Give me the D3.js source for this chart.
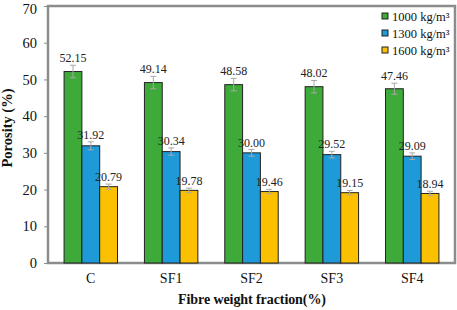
<!DOCTYPE html>
<html>
<head>
<meta charset="utf-8">
<script src="https://cdn.jsdelivr.net/npm/d3@7"></script>
<style>
  body { margin: 0; background: #fff; }
</style>
</head>
<body>
<div id="chart"></div>
<script>
// data
const categories = ['C', 'SF1', 'SF2', 'SF3', 'SF4'];
const seriesNames = ['1000 kg/m³', '1300 kg/m³', '1600 kg/m³'];
const values1000 = [52.15, 49.14, 48.58, 48.02, 47.46];
const values1300 = [31.92, 30.34, 30.00, 29.52, 29.09];
const values1600 = [20.79, 19.78, 19.46, 19.15, 18.94];
const errors1000 = [1.7, 1.7, 1.7, 1.7, 1.5];
const errors1300 = [1.1, 1.0, 0.9, 0.9, 0.9];
const errors1600 = [0.7, 0.6, 0.6, 0.6, 0.6];
const yTicks = [0, 10, 20, 30, 40, 50, 60, 70];
const colors = ['#3eaa3a', '#1e9ad8', '#fbc000'];

const series = [values1000, values1300, values1600];
const errs = [errors1000, errors1300, errors1600];

const FONT = '"Liberation Serif", "Times New Roman", serif';
const width = 457;
const height = 310;
const marginLeft = 48;
const marginRight = 2;
const marginTop = 6;
const marginBottom = 47;

const svg = d3.select('#chart').append('svg')
  .attr('width', width)
  .attr('height', height);

const scaleX = d3.scaleBand()
  .domain(categories)
  .range([marginLeft, width - marginRight])
  .paddingInner(0.335)
  .paddingOuter(0.2);

const scaleY = d3.scaleLinear()
  .domain([0, 70])
  .range([height - marginBottom, marginTop]);

const scaleSub = d3.scaleBand()
  .domain(d3.range(3))
  .range([0, scaleX.bandwidth()]);

// frame
svg.append('rect')
  .attr('x', marginLeft)
  .attr('y', marginTop)
  .attr('width', width - marginLeft - marginRight)
  .attr('height', height - marginTop - marginBottom)
  .attr('fill', 'none')
  .attr('stroke', '#8c8c8c')
  .attr('stroke-width', 2.5);

// y axis
const yAxis = svg.append('g')
  .attr('transform', `translate(${marginLeft - 1}, 0)`)
  .call(d3.axisLeft(scaleY).tickValues(yTicks).tickSize(3).tickPadding(7));
yAxis.select('.domain').remove();
yAxis.selectAll('.tick line').attr('stroke', '#8c8c8c');
yAxis.selectAll('text')
  .attr('font-size', 14.5)
  .attr('fill', '#111')
  .style('font-family', FONT);
// top label sits against the edge, nudge it down so it is not clipped
yAxis.selectAll('.tick text')
  .filter(d => d === 70)
  .attr('dy', '0.5em');

// x axis
const xAxis = svg.append('g')
  .attr('transform', `translate(0, ${height - marginBottom})`)
  .call(d3.axisBottom(scaleX).tickSize(0).tickPadding(10));
xAxis.select('.domain').remove();
xAxis.selectAll('text')
  .attr('font-size', 14)
  .attr('fill', '#111')
  .style('font-family', FONT);

// bars
series.forEach((vals, si) => {
  const g = svg.append('g');
  const bx = d => scaleX(categories[d.i]) + scaleSub(si);
  const data = vals.map((v, i) => ({ v, i, e: errs[si][i] }));

  g.selectAll('rect')
    .data(data)
    .enter()
    .append('rect')
    .attr('x', bx)
    .attr('y', d => scaleY(d.v))
    .attr('width', scaleSub.bandwidth())
    .attr('height', d => scaleY(0) - scaleY(d.v))
    .attr('fill', colors[si])
    .attr('stroke', '#222')
    .attr('stroke-width', 1);

  // error bars
  const cx = d => bx(d) + scaleSub.bandwidth() / 2;
  const eb = g.selectAll('g.err')
    .data(data)
    .enter()
    .append('g')
    .attr('stroke', '#a8a8a8')
    .attr('stroke-width', 1);
  eb.append('line')
    .attr('x1', cx).attr('x2', cx)
    .attr('y1', d => scaleY(d.v - d.e))
    .attr('y2', d => scaleY(d.v + d.e));
  eb.append('line')
    .attr('x1', d => cx(d) - 3).attr('x2', d => cx(d) + 3)
    .attr('y1', d => scaleY(d.v + d.e))
    .attr('y2', d => scaleY(d.v + d.e));
  eb.append('line')
    .attr('x1', d => cx(d) - 3).attr('x2', d => cx(d) + 3)
    .attr('y1', d => scaleY(d.v - d.e))
    .attr('y2', d => scaleY(d.v - d.e));

  // value labels
  g.selectAll('text')
    .data(data)
    .enter()
    .append('text')
    .attr('x', cx)
    .attr('y', d => scaleY(d.v + d.e) - 3)
    .attr('text-anchor', 'middle')
    .attr('font-size', 12)
    .attr('fill', '#222')
    .style('font-family', FONT)
    .text(d => d.v.toFixed(2));
});

// axis titles
svg.append('text')
  .attr('transform', `translate(12, 128) rotate(-90)`)
  .attr('text-anchor', 'middle')
  .attr('font-size', 14.5)
  .attr('font-weight', 'bold')
  .attr('fill', '#111')
  .style('font-family', FONT)
  .text('Porosity (%)');

svg.append('text')
  .attr('x', 178)
  .attr('y', 304)
  .attr('textLength', 148)
  .attr('lengthAdjust', 'spacing')
  .attr('font-size', 14)
  .attr('font-weight', 'bold')
  .attr('fill', '#111')
  .style('font-family', FONT)
  .text('Fibre weight fraction(%)');

// legend
const legend = svg.append('g')
  .attr('transform', 'translate(382, 11)');
const items = legend.selectAll('g')
  .data(seriesNames)
  .enter()
  .append('g')
  .attr('transform', (d, i) => `translate(0, ${i * 17})`);
items.append('rect')
  .attr('width', 6).attr('height', 6)
  .attr('y', 2)
  .attr('fill', (d, i) => colors[i])
  .attr('stroke', '#222')
  .attr('stroke-width', 1);
items.append('text')
  .attr('x', 10)
  .attr('y', 9.5)
  .attr('font-size', 12.5)
  .attr('fill', '#111')
  .style('font-family', FONT)
  .text(d => d);
</script>
</body>
</html>
